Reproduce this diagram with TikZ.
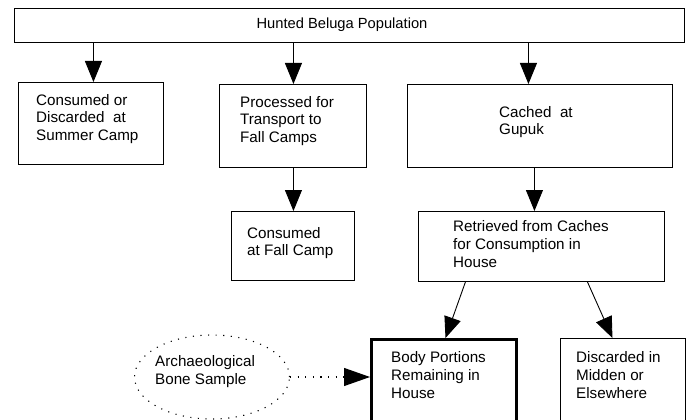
\documentclass[tikz,border=0pt]{standalone}
\usepackage{fontspec}
\setmainfont{Liberation Sans}
\usetikzlibrary{arrows.meta,shapes.geometric}
\begin{document}
\begin{tikzpicture}[x=1pt,y=-1pt,
  box/.style={draw, line width=0.9pt, inner sep=0pt, anchor=north west},
  thickbox/.style={box, line width=3pt},
  lbl/.style={inner sep=0pt, align=left, anchor=west, font=\fontsize{15.2}{17.8}\selectfont},
  arr/.style={line width=0.9pt, -{Triangle[length=21pt,width=17pt]}},
  dotline/.style={line width=1.1pt, dash pattern=on 1.1pt off 6.5pt},
  dotarr/.style={dotline, -{Triangle[length=26pt,width=18pt]}}]
\useasboundingbox (0,0) rectangle (691,420);
\clip (0,0) rectangle (691,420);
% boxes
\node[box, minimum width=670, minimum height=34] (top) at (14,8) {};
\node[lbl, anchor=center, font=\fontsize{14.7}{17.5}\selectfont] (ttop) at (342,25) {Hunted Beluga Population};
\node[box, minimum width=145, minimum height=82] (b1) at (18,82) {};
\node[lbl] (t1) at (36,119) {Consumed or\\Discarded\ \ at\\Summer Camp};
\node[box, minimum width=147, minimum height=83] (b2) at (219,84) {};
\node[lbl] (t2) at (240,121) {Processed for\\Transport to\\Fall Camps};
\node[box, minimum width=265, minimum height=83] (b3) at (407,84) {};
\node[lbl] (t3) at (499,122) {Cached\ \ at\\Gupuk};
\node[box, minimum width=123, minimum height=69] (fall) at (231,211) {};
\node[lbl] (tfall) at (247,243) {Consumed\\at Fall Camp};
\node[box, minimum width=246, minimum height=70] (ret) at (418,211) {};
\node[lbl] (tret) at (453,244) {Retrieved from Caches\\for Consumption in\\House};
\node[thickbox, minimum width=145, minimum height=100] (body) at (370,338) {};
\node[lbl] (tbody) at (391,375) {Body Portions\\Remaining in\\House};
\node[box, minimum width=125, minimum height=100] (disc) at (560,338) {};
\node[lbl] (tdisc) at (576,375) {Discarded in\\Midden or\\Elsewhere};
\node[ellipse, draw, dotline, minimum width=155, minimum height=84, inner sep=0pt] (ell) at (212,377) {};
\node[lbl] (tell) at (155,371.5) {Archaeological\\Bone Sample};
% connector end points
\coordinate (e1) at ([xshift=2.5]b1.north);
\coordinate (e2) at ([xshift=0.5]b2.north);
\coordinate (e3) at ([xshift=-11.5]b3.north);
\coordinate (e4) at ([xshift=0.5]fall.north);
\coordinate (e5) at ([xshift=-7]ret.north);
% connectors
\draw[arr] (e1 |- top.south) -- (e1);
\draw[arr] (e2 |- top.south) -- (e2);
\draw[arr] (e3 |- top.south) -- (e3);
\draw[arr] (e4 |- b2.south) -- (e4);
\draw[arr] (e5 |- b3.south) -- (e5);
\draw[arr] ([xshift=-76]ret.south) -- ([xshift=1.5]body.north);
\draw[arr] ([xshift=46]ret.south) -- ([xshift=-10.5]disc.north);
\draw[dotarr] (ell.east) -- (ell.east -| body.west);
\end{tikzpicture}
\end{document}
